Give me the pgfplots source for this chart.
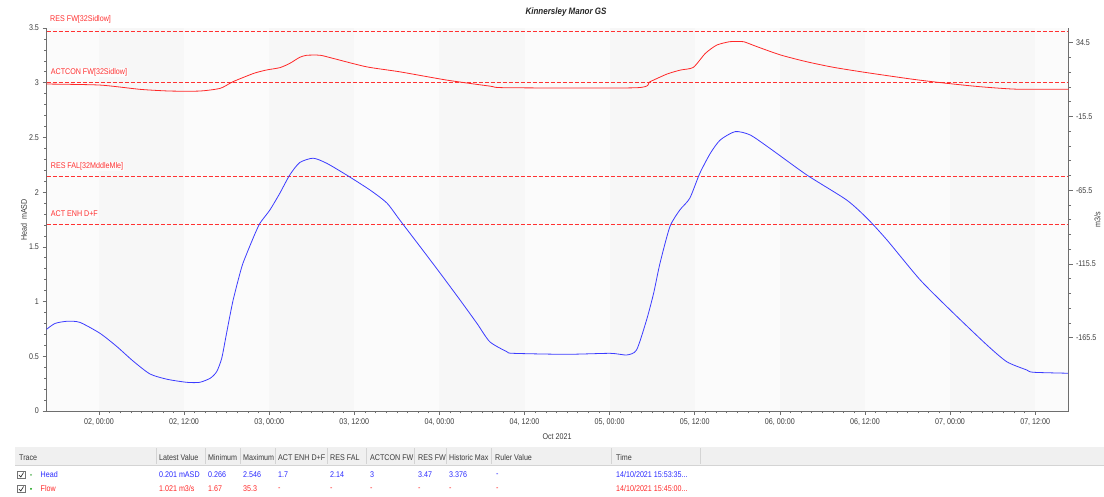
\documentclass[border=0pt]{standalone}
\usepackage{fontspec}
\setmainfont[FakeStretch=0.86]{Liberation Sans}
\usepackage{pgfplots}
\pgfplotsset{compat=1.18}
\usepackage{pgfplotstable}

\definecolor{headblue}{RGB}{60,60,255}
\definecolor{flowred}{RGB}{255,40,40}
\definecolor{limitred}{RGB}{255,50,50}
\definecolor{txtgray}{RGB}{60,60,60}
\definecolor{axgray}{RGB}{110,110,110}
\definecolor{plotbg}{RGB}{247,247,247}
\definecolor{bandbg}{RGB}{251,251,251}
\definecolor{hdrbg}{RGB}{240,240,240}
\definecolor{hdrsep}{RGB}{212,212,212}
\definecolor{tabblue}{RGB}{40,40,255}
\definecolor{tabred}{RGB}{255,40,40}

% Head, hours after 02 Oct 00:00 vs mASD
\pgfplotstableread{
h v
-7.4 0.746
-6.2 0.80
-4.5 0.82
-2.7 0.81
0.14 0.71
2.5 0.59
4.8 0.457
7.2 0.338
9.6 0.29
12.4 0.262
14.2 0.262
15.7 0.30
16.6 0.36
17.3 0.48
17.9 0.68
18.4 0.85
18.9 1.01
19.6 1.19
20.3 1.35
21.8 1.59
22.7 1.716
24.1 1.837
25.5 1.99
26.9 2.157
28.3 2.27
30.2 2.31
32.1 2.264
34.9 2.157
38.2 2.02
40.6 1.90
42.4 1.746
45.3 1.50
48.1 1.26
50.9 1.015
53.3 0.80
55.1 0.633
57.5 0.542
58.4 0.527
65.9 0.518
72.1 0.527
74.4 0.512
75.8 0.558
77.2 0.83
78.2 1.075
79.1 1.35
80.5 1.685
81.9 1.837
83.3 1.944
84.7 2.17
86.2 2.355
87.6 2.477
89.7 2.553
91.8 2.523
94.6 2.40
99.8 2.157
105.4 1.929
108.3 1.761
111.1 1.563
115.8 1.197
120.5 0.893
125.2 0.603
128.0 0.45
130.8 0.375
131.7 0.354
136.7 0.345
}\headdata

% Flow, hours after 02 Oct 00:00 vs m3/s
\pgfplotstableread{
h v
-7.4 6.5
0.14 5.8
5.8 2.9
10.0 1.75
14.2 1.75
17.1 3.6
18.9 8.1
21.8 13.7
23.6 16.0
25.5 17.6
26.9 20.5
28.3 24.6
29.3 26.0
31.2 26.0
33.0 23.9
37.7 18.2
42.4 14.8
49.0 9.2
55.1 5.1
57.5 4.0
75.8 4.0
77.7 8.1
80.1 13.3
82.0 16.0
83.8 17.8
85.5 27.3
87.1 32.9
88.9 35.2
89.9 35.3
90.9 35.2
92.8 31.8
96.1 26.2
99.8 21.6
103.6 17.8
108.3 14.2
114.8 9.7
119.5 7.0
124.2 4.7
129.4 3.0
136.7 3.0
}\flowdata

\newcommand\sm{\fontsize{8.3}{9}\selectfont}

\begin{document}
\begin{tikzpicture}[x=1pt,y=1pt]
\path[use as bounding box] (0,0) rectangle (1104,497);

% left axis: Head
\begin{axis}[
  at={(46.5pt,86pt)}, anchor=south west,
  scale only axis, width=1022pt, height=383pt,
  xmin=-7.4, xmax=136.7, ymin=0, ymax=3.5,
  axis x line*=bottom, axis y line*=left,
  axis line style={axgray, line width=0.7pt, -},
  axis background/.style={fill=plotbg},
  xtick={0,12,24,36,48,60,72,84,96,108,120,132},
  xticklabels={{02, 00:00},{02, 12:00},{03, 00:00},{03, 12:00},{04, 00:00},{04, 12:00},{05, 00:00},{05, 12:00},{06, 00:00},{06, 12:00},{07, 00:00},{07, 12:00}},
  minor x tick num=7,
  ytick={0,0.5,1,1.5,2,2.5,3,3.5},
  minor y tick num=4,
  tick align=outside,
  major tick length=4pt, minor tick length=2.5pt,
  tick style={axgray, line width=0.6pt},
  ticklabel style={font=\sm, text=txtgray},
  /pgf/number format/assume math mode=true,
  clip=false,
]
% alternating half-day shading
\fill[bandbg] (axis cs:-7.4,0) rectangle (axis cs:0,3.5);
\pgfplotsinvokeforeach{12,36,60,84,108}{
  \fill[bandbg] (axis cs:#1,0) rectangle ([xshift=85.1pt]axis cs:#1,3.5);
}
\fill[bandbg] (axis cs:132,0) rectangle (axis cs:136.7,3.5);

\addplot[draw=limitred, line width=1pt, dash pattern=on 4pt off 2pt] coordinates {(-7.4,3.47) (136.7,3.47)};
\addplot[draw=limitred, line width=1pt, dash pattern=on 4pt off 2pt] coordinates {(-7.4,3.0) (136.7,3.0)};
\addplot[draw=limitred, line width=1pt, dash pattern=on 4pt off 2pt] coordinates {(-7.4,2.14) (136.7,2.14)};
\addplot[draw=limitred, line width=1pt, dash pattern=on 4pt off 2pt] coordinates {(-7.4,1.7) (136.7,1.7)};

\node[anchor=base west, inner sep=0pt, font=\sm, text=limitred] at ([yshift=9.5pt]axis cs:-6.9,3.47) {RES FW[32Sidlow]};
\node[anchor=base west, inner sep=0.6pt, fill=white, fill opacity=0.7, text opacity=1, font=\sm, text=limitred] at ([yshift=8pt]axis cs:-6.9,3.0) {ACTCON FW[32Sidlow]};
\node[anchor=base west, inner sep=0.6pt, fill=white, fill opacity=0.7, text opacity=1, font=\sm, text=limitred] at ([yshift=8pt]axis cs:-6.9,2.14) {RES FAL[32MddleMle]};
\node[anchor=base west, inner sep=0.6pt, fill=white, fill opacity=0.7, text opacity=1, font=\sm, text=limitred] at ([yshift=8pt]axis cs:-6.9,1.7) {ACT ENH D+F};

\addplot[headblue, line width=0.8pt, smooth, tension=0.4] table[x=h, y=v] {\headdata};
\end{axis}

% right axis: Flow
\begin{axis}[
  at={(46.5pt,86pt)}, anchor=south west,
  scale only axis, width=1022pt, height=383pt,
  xmin=-7.4, xmax=136.7, ymin=-215.2, ymax=44.5,
  axis x line=none, axis y line*=right,
  axis line style={axgray, line width=0.7pt, -},
  ytick={-165.5,-115.5,-65.5,-15.5,34.5},
  minor y tick num=4,
  tick align=outside,
  major tick length=4pt, minor tick length=2.5pt,
  tick style={axgray, line width=0.6pt},
  ticklabel style={font=\sm, text=txtgray},
  yticklabel style={/pgf/number format/.cd, fixed, fixed zerofill, precision=1},
  /pgf/number format/assume math mode=true,
  clip=false,
]
\addplot[flowred, line width=0.8pt, smooth, tension=0.4] table[x=h, y=v] {\flowdata};
\end{axis}

% titles and axis names
\node[font=\fontsize{9.3}{10}\selectfont\bfseries\itshape, text=black!85] at (566,485) {Kinnersley Manor GS};
\node[font=\sm, text=txtgray] at (557,60.5) {Oct 2021};
\node[font=\sm, text=txtgray, rotate=90] at (24,277) {Head\ \ mASD};
\node[font=\sm, text=txtgray, rotate=90] at (1097.5,277) {m3/s};

% trace table
\fill[hdrbg] (15,31.5) rectangle (1104,50);
\draw[hdrsep, line width=0.6pt] (15,31.5) -- (1104,31.5);
\foreach \sx in {156,205,240,275,327,366,414,446,491,611,700}
  \draw[hdrsep, line width=0.5pt] (\sx,33) -- (\sx,49);

\begin{scope}[every node/.style={anchor=west, inner sep=0pt, font=\sm}]
\node[text=txtgray] at (19,39.7) {Trace};
\node[text=txtgray] at (159,39.7) {Latest Value};
\node[text=txtgray] at (208,39.7) {Minimum};
\node[text=txtgray] at (243,39.7) {Maximum};
\node[text=txtgray] at (278,39.7) {ACT ENH D+F};
\node[text=txtgray] at (330,39.7) {RES FAL};
\node[text=txtgray] at (370,39.7) {ACTCON FW};
\node[text=txtgray] at (418,39.7) {RES FW};
\node[text=txtgray] at (449,39.7) {Historic Max};
\node[text=txtgray] at (495,39.7) {Ruler Value};
\node[text=txtgray] at (616,39.7) {Time};

\node[text=tabblue] at (40.5,22) {Head};
\node[text=tabblue] at (159,22) {0.201 mASD};
\node[text=tabblue] at (208,22) {0.266};
\node[text=tabblue] at (243,22) {2.546};
\node[text=tabblue] at (278,22) {1.7};
\node[text=tabblue] at (330,22) {2.14};
\node[text=tabblue] at (370,22) {3};
\node[text=tabblue] at (418,22) {3.47};
\node[text=tabblue] at (449,22) {3.376};
\node[text=tabblue] at (496,22) {-};
\node[text=tabblue] at (616,22) {14/10/2021 15:53:35...};

\node[text=tabred] at (40.5,8) {Flow};
\node[text=tabred] at (159,8) {1.021 m3/s};
\node[text=tabred] at (208,8) {1.67};
\node[text=tabred] at (243,8) {35.3};
\node[text=tabred] at (278,8) {-};
\node[text=tabred] at (330,8) {-};
\node[text=tabred] at (370,8) {-};
\node[text=tabred] at (418,8) {-};
\node[text=tabred] at (449,8) {-};
\node[text=tabred] at (496,8) {-};
\node[text=tabred] at (616,8) {14/10/2021 15:45:00...};
\end{scope}

% check boxes and trace markers
\foreach \ry/\dc in {22/{black!45!green!60}, 8/{green!60!black}} {
  \draw[black!55, line width=0.5pt, fill=white] (17.5,\ry-3.5) rectangle (25,\ry+3.5);
  \draw[black!80, line width=0.7pt] (19,\ry) -- (20.8,\ry-2) -- (23.6,\ry+2.5);
  \fill[\dc] (31,\ry) circle (1pt);
}
\end{tikzpicture}
\end{document}
